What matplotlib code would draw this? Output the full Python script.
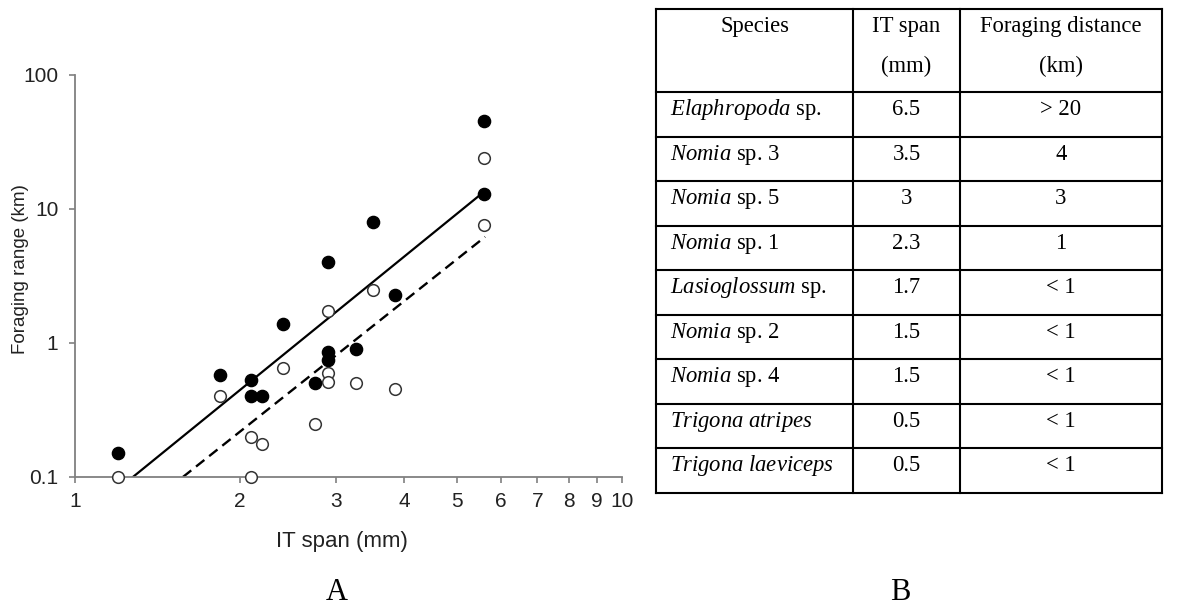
"""Foraging range vs IT span (A) with species table (B)."""

import numpy as np
import matplotlib

matplotlib.use("Agg")
import matplotlib.pyplot as plt

# --- panel A data ---
it_span = [1.2, 1.84, 2.1, 2.1, 2.2, 2.4, 2.75, 2.9, 2.9, 2.9, 3.27, 3.5, 3.85, 5.6, 5.6]
range_max = [0.15, 0.58, 0.53, 0.40, 0.40, 1.39, 0.50, 4.05, 0.86, 0.75, 0.90, 8.0, 2.3, 45.6, 12.9]
range_typ = [0.10, 0.40, 0.20, 0.10, 0.176, 0.655, 0.25, 1.73, 0.60, 0.51, 0.50, 2.5, 0.45, 24.2, 7.6]

fit_max_x = [1.276, 5.6]
fit_max_y = [0.1, 13.5]
fit_typ_x = [1.575, 5.62]
fit_typ_y = [0.1, 6.2]

x_ticks = [1, 2, 3, 4, 5, 6, 7, 8, 9, 10]
y_ticks = [0.1, 1, 10, 100]
y_tick_labels = ["0.1", "1", "10", "100"]

# --- panel B data ---
genus = ["Elaphropoda", "Nomia", "Nomia", "Nomia", "Lasioglossum",
         "Nomia", "Nomia", "Trigona atripes", "Trigona laeviceps"]
genus_suffix = ["sp.", "sp. 3", "sp. 5", "sp. 1", "sp.", "sp. 2", "sp. 4", "", ""]
span_mm = ["6.5", "3.5", "3", "2.3", "1.7", "1.5", "1.5", "0.5", "0.5"]
distance_km = ["> 20", "4", "3", "1", "< 1", "< 1", "< 1", "< 1", "< 1"]
headers = ["Species", "IT span\n(mm)", "Foraging distance\n(km)"]

plt.rcParams["mathtext.fontset"] = "custom"
plt.rcParams["mathtext.it"] = "Liberation Serif:italic"
plt.rcParams["mathtext.rm"] = "Liberation Serif"

fig = plt.figure(figsize=(11.9, 6.1), dpi=100)

# ---------------- panel A ----------------
ax = fig.add_axes([75 / 1190, 133 / 610, 547 / 1190, 402 / 610])
ax.set_xscale("log")
ax.set_yscale("log")
ax.set_xlim(1, 10)
ax.set_ylim(0.1, 100)

ax.plot(fit_max_x, fit_max_y, color="black", lw=1.6, zorder=2)
ax.plot(fit_typ_x, fit_typ_y, color="black", lw=1.7, ls=(0, (4.5, 2.6)), zorder=2)
ax.plot(it_span, range_max, "o", ms=8.8, mfc="black", mec="black", ls="none",
        zorder=3, clip_on=False)
ax.plot(it_span, range_typ, "o", ms=8.4, mfc="white", mec="#333333", mew=1.1,
        ls="none", zorder=3, clip_on=False)

for side in ["top", "right"]:
    ax.spines[side].set_visible(False)
for side in ["left", "bottom"]:
    ax.spines[side].set_color("#808080")
    ax.spines[side].set_linewidth(1.3)

ax.set_xticks(x_ticks)
ax.set_xticklabels([str(t) for t in x_ticks])
ax.set_yticks(y_ticks)
ax.set_yticklabels(y_tick_labels)
ax.xaxis.set_minor_locator(matplotlib.ticker.NullLocator())
ax.yaxis.set_minor_locator(matplotlib.ticker.NullLocator())
ax.tick_params(direction="out", length=4.5, width=1.2, color="#808080",
               labelsize=15, labelcolor="#222222")
ax.tick_params(axis="x", pad=6)
ax.tick_params(axis="y", pad=7.5)
for lab in ax.get_xticklabels() + ax.get_yticklabels():
    lab.set_family("Liberation Sans")

ax.set_xlabel("IT span (mm)", fontsize=16, family="Liberation Sans", color="#222222")
ax.set_ylabel("Foraging range (km)", fontsize=13.5, family="Liberation Sans",
              color="#222222")
ax.xaxis.set_label_coords(0.488, -0.135)
ax.yaxis.set_label_coords(-0.085, 0.517)

# ---------------- panel B (table) ----------------
tab = fig.add_axes([0, 0, 1, 1])
tab.set_xlim(0, 1190)
tab.set_ylim(610, 0)
tab.axis("off")

col_edges = [656, 853, 960, 1162]
head_top, head_bottom, table_bottom = 9, 92, 493
row_h = (table_bottom - head_bottom) / len(genus)
row_edges = [head_top] + [head_bottom + i * row_h for i in range(len(genus) + 1)]

for y in row_edges:
    tab.plot([col_edges[0], col_edges[-1]], [y, y], color="black", lw=1.5,
             solid_capstyle="projecting")
for x in col_edges:
    tab.plot([x, x], [head_top, table_bottom], color="black", lw=1.5,
             solid_capstyle="projecting")

serif = "Liberation Serif"
fs = 16.3
for i, h in enumerate(headers):
    cx = (col_edges[i] + col_edges[i + 1]) / 2
    for j, line in enumerate(h.split("\n")):
        tab.text(cx, head_top + 23 + 40 * j, line, ha="center", va="baseline",
                 fontsize=fs, family=serif)

for i in range(len(genus)):
    base = row_edges[i + 1] + 23
    name = r"$\mathit{" + genus[i].replace(" ", r"\ ") + "}$"
    if genus_suffix[i]:
        name += " " + genus_suffix[i]
    tab.text(col_edges[0] + 14, base, name, ha="left", va="baseline",
             fontsize=fs, family=serif)
    tab.text((col_edges[1] + col_edges[2]) / 2, base, span_mm[i], ha="center",
             va="baseline", fontsize=fs, family=serif)
    tab.text((col_edges[2] + col_edges[3]) / 2, base, distance_km[i], ha="center",
             va="baseline", fontsize=fs, family=serif)

# panel letters
tab.text(337, 592, "A", ha="center", va="center", fontsize=22, family=serif)
tab.text(900, 592, "B", ha="center", va="center", fontsize=22, family=serif)

fig.savefig("out.png", dpi=100)
plt.close(fig)
